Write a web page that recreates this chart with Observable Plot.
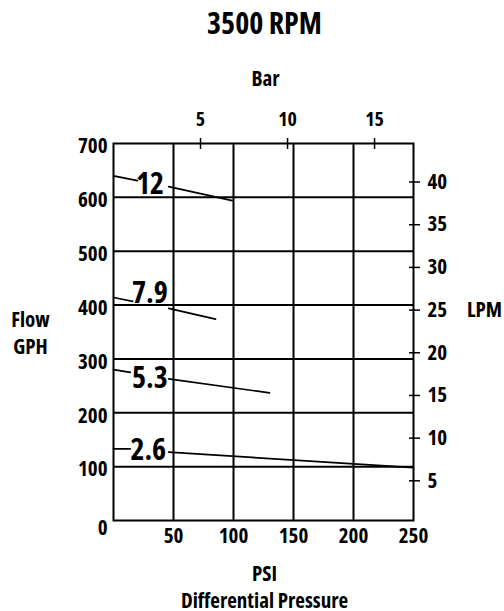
<!DOCTYPE html>
<html>
<head>
<meta charset="utf-8">
<script src="https://cdn.jsdelivr.net/npm/d3@7"></script>
<script src="https://cdn.jsdelivr.net/npm/@observablehq/plot@0.6"></script>
<style>
  html, body { margin: 0; padding: 0; background: #fff; }
  #chart svg { display: block; }
  #chart svg, #chart svg text { font-family: "Open Sans", sans-serif; font-stretch: 82%; font-weight: bold; }
</style>
</head>
<body>
<div id="chart"></div>
<script>
// ---- data ----
const title = "3500 RPM";
const seriesLabels = ["12", "7.9", "5.3", "2.6"];
const startGph    = [640, 414, 280, 133];   // flow at 0 PSI
const gapStartPsi = [20, 16, 14, 14];        // line interrupted by label
const gapStartGph = [631, 407, 275, 133];
const gapEndPsi   = [46, 46, 46, 46];
const gapEndGph   = [620, 394, 263, 127];
const endPsi      = [99, 85, 130, 250];
const endGph      = [594, 374, 237, 98];
const labelPsi    = [30.5, 30.3, 30.3, 29];
const labelGph    = [624, 421, 263, 130];

const psiTicks = [50, 100, 150, 200, 250];
const psiGrid = [50, 100, 150, 200];
const gphTicks = [100, 200, 300, 400, 500, 600, 700];
const gphGrid = [100, 200, 300, 400, 500, 600];
const barTicks = [5, 10, 15];
const lpmTicks = [5, 10, 15, 20, 25, 30, 35, 40];

const PSI_PER_BAR = 14.5038;
const GPH_PER_LPM = 60 / 3.78541;

// ---- build tables ----
const segs = [];
seriesLabels.forEach((s, i) => {
  segs.push({seg: s + "a", psi: 0, gph: startGph[i]});
  segs.push({seg: s + "a", psi: gapStartPsi[i], gph: gapStartGph[i]});
  segs.push({seg: s + "b", psi: gapEndPsi[i], gph: gapEndGph[i]});
  segs.push({seg: s + "b", psi: endPsi[i], gph: endGph[i]});
});
const labels = seriesLabels.map((s, i) => ({label: s, psi: labelPsi[i], gph: labelGph[i]}));

const chart = Plot.plot({
  width: 504,
  height: 611,
  marginLeft: 113,
  marginRight: 91,
  marginTop: 143,
  marginBottom: 91,
  style: {fontFamily: '"Open Sans", sans-serif', fontWeight: "bold", color: "black", background: "white", fontSize: "21px"},
  x: {domain: [0, 250]},
  y: {domain: [0, 700]},
  marks: [
    Plot.gridX(psiGrid, {stroke: "black", strokeOpacity: 1, strokeWidth: 2}),
    Plot.gridY(gphGrid, {stroke: "black", strokeOpacity: 1, strokeWidth: 2}),
    Plot.frame({stroke: "black", strokeWidth: 2}),
    Plot.axisX(psiTicks, {anchor: "bottom", tickSize: 0, tickPadding: 8, fontSize: 21, label: null}),
    Plot.axisY(gphTicks, {anchor: "left", tickSize: 0, tickPadding: 6, dy: 3, fontSize: 21, label: null}),
    Plot.axisY([0], {anchor: "left", tickSize: 0, tickPadding: 6, dy: 8, fontSize: 21, label: null}),
    Plot.axisX(barTicks.map(b => b * PSI_PER_BAR), {
      anchor: "top", tickSize: 11, tickPadding: 12, dy: 5, strokeWidth: 1.5, fontSize: 20,
      tickFormat: d => Math.round(d / PSI_PER_BAR), label: null
    }),
    Plot.axisY(lpmTicks.map(l => l * GPH_PER_LPM), {
      anchor: "right", tickSize: 11, tickPadding: 8, dx: -5, dy: 3, strokeWidth: 1.5, fontSize: 21,
      tickFormat: d => Math.round(d / GPH_PER_LPM), label: null
    }),
    Plot.line(segs, {x: "psi", y: "gph", z: "seg", stroke: "black", strokeWidth: 1.7}),
    Plot.text(labels, {x: "psi", y: "gph", text: "label", fontSize: 30, fontWeight: "bold", fill: "black"}),
    Plot.text([title], {frameAnchor: "top", textAnchor: "middle", dx: 1, dy: -110, lineAnchor: "bottom", fontSize: 30}),
    Plot.text(["Bar"], {frameAnchor: "top", textAnchor: "middle", dx: 2, dy: -58, lineAnchor: "bottom", fontSize: 21}),
    Plot.text(["Flow\nGPH"], {frameAnchor: "left", textAnchor: "middle", dx: -83, dy: 22, lineAnchor: "bottom", lineHeight: 1.27, fontSize: 21}),
    Plot.text(["LPM"], {frameAnchor: "right", textAnchor: "middle", dx: 71, dy: -15, lineAnchor: "bottom", fontSize: 21}),
    Plot.text(["PSI\nDifferential Pressure"], {frameAnchor: "bottom", textAnchor: "middle", dx: 1, dy: 87, lineAnchor: "bottom", lineHeight: 1.24, fontSize: 21})
  ]
});
document.getElementById("chart").appendChild(chart);
</script>
</body>
</html>
